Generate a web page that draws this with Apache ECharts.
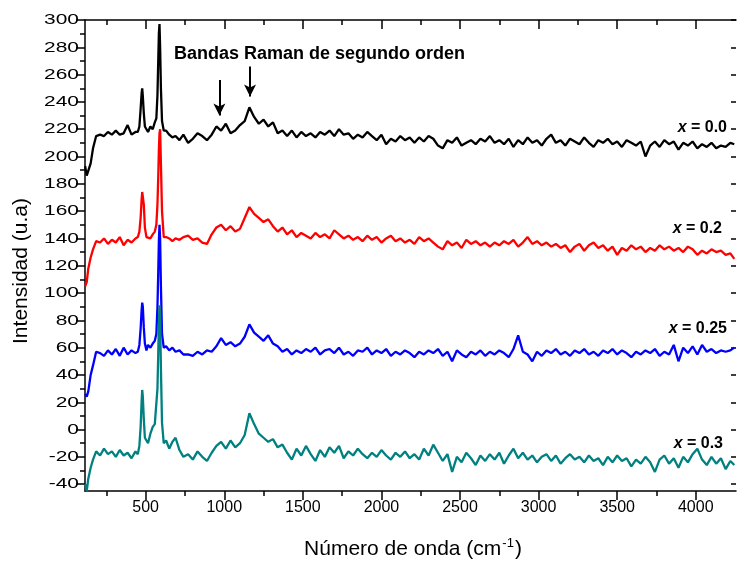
<!DOCTYPE html>
<html>
<head>
<meta charset="utf-8">
<script src="https://cdn.jsdelivr.net/npm/echarts@6/dist/echarts.min.js"></script>
<style>
  html, body { margin: 0; padding: 0; background: #fff; }
  #chart { width: 737px; height: 561px; }
</style>
</head>
<body>
<div id="chart"></div>
<script>
// Raman spectra, wavenumber in cm^-1
const wavenumber = [
  115,125,135,150,165,185,210,235,260,285,
  310,335,360,385,410,435,450,460,468,474,
  478,482,488,495,505,515,530,545,558,568,
  575,580,584,588,592,597,604,615,630,650,
  670,690,715,740,
  770,800,830,860,890,920,950,980,1010,1040,
  1070,1100,1130,1160,1190,1220,1250,1280,1310,1340,
  1370,1400,1430,1460,1490,1520,1550,1580,1610,1640,
  1670,1700,1730,1760,1790,1820,1850,1880,1910,1940,
  1970,2000,2030,2060,2090,2120,2150,2180,2210,2240,
  2270,2300,2330,2360,2390,2420,2450,2480,2510,2540,
  2570,2600,2630,2660,2690,2720,2750,2780,2810,2840,
  2870,2900,2930,2960,2990,3020,3050,3080,3110,3140,
  3170,3200,3230,3260,3290,3320,3350,3380,3410,3440,
  3470,3500,3530,3560,3590,3620,3650,3680,3710,3740,
  3770,3800,3830,3860,3890,3920,3950,3980,4010,4040,
  4070,4100,4130,4160,4190,4220,4245
];

// x = 0.0
const intensityX00 = [
  193,186,185,195,206,215,216,215,218,216,
  219,216,217,223,216,218,218,222,235,246,
  250,244,232,222,220,218,222,220,225,228,
  245,270,290,297,280,250,226,219,219,216,
  214,215,212,216,
  210,213,217,215,212,216,222,219,224,217,
  219,223,226,236,229,224,227,222,225,217,
  219,215,219,214,218,215,217,214,218,216,
  219,215,220,216,217,213,216,214,218,215,
  212,216,209,213,211,215,212,214,210,214,
  211,215,213,208,206,212,210,214,208,210,
  212,209,213,211,215,210,212,209,213,207,
  212,209,214,210,212,208,213,216,210,212,
  208,213,211,209,214,210,207,212,210,213,
  209,211,207,212,210,208,211,200,208,211,
  207,212,209,211,205,210,208,211,206,209,
  207,210,206,208,207,210,209
];

// x = 0.2
const intensityX02 = [
  105,108,118,126,132,138,137,140,136,139,
  137,141,135,139,137,140,141,145,155,168,
  174,175,165,148,141,141,140,143,145,150,
  165,185,205,217,220,195,160,141,141,140,
  138,140,139,141,
  142,139,140,137,136,143,148,150,146,149,
  145,147,155,163,158,155,152,154,149,145,
  148,143,146,141,144,142,140,144,141,143,
  140,146,143,140,142,139,141,138,142,139,
  141,137,140,142,138,140,137,139,136,141,
  138,140,137,134,132,138,135,137,133,139,
  136,138,135,137,134,137,135,138,136,139,
  134,137,141,136,138,135,137,134,136,133,
  135,130,134,136,131,135,137,133,135,131,
  134,128,133,131,135,132,134,130,133,131,
  135,132,134,131,133,130,134,132,128,131,
  129,132,130,131,128,129,125
];

// x = 0.25
const intensityX025 = [
  26,24,28,40,47,57,56,54,58,55,
  59,54,60,55,58,56,57,62,74,87,
  93,90,75,63,58,62,60,63,65,70,
  90,115,138,150,140,105,70,60,61,58,
  60,57,58,55,
  55,54,57,55,58,57,61,67,62,64,
  61,63,68,77,71,68,65,69,63,61,
  57,59,55,58,56,59,57,60,55,58,
  59,56,60,55,57,54,58,57,60,55,
  58,56,59,54,57,55,58,56,53,57,
  55,58,56,59,54,57,50,58,55,53,
  57,55,58,54,57,55,58,56,53,59,
  69,57,55,50,57,54,58,56,59,55,
  57,54,58,56,59,55,57,54,58,56,
  59,55,58,56,53,57,55,58,56,59,
  54,57,55,62,50,60,56,61,55,62,
  57,59,56,58,57,58,60
];

// x = 0.3
const intensityX03 = [
  -40,-45,-36,-28,-22,-16,-19,-14,-18,-16,
  -20,-15,-19,-17,-21,-16,-18,-12,2,20,
  29,24,8,-6,-5,-10,-3,2,4,5,
  30,55,78,91,82,45,5,-10,-8,-14,
  -9,-6,-15,-20,
  -18,-22,-16,-20,-23,-17,-12,-9,-14,-8,
  -13,-10,-4,12,4,-3,-6,-9,-7,-13,
  -11,-17,-22,-14,-19,-12,-18,-23,-15,-20,
  -13,-17,-12,-21,-16,-19,-14,-18,-21,-17,
  -20,-15,-19,-22,-17,-20,-16,-21,-18,-22,
  -14,-19,-11,-17,-23,-18,-31,-20,-24,-17,
  -21,-26,-19,-23,-18,-22,-17,-25,-19,-14,
  -21,-17,-22,-19,-24,-20,-18,-23,-19,-25,
  -21,-18,-22,-20,-24,-19,-23,-21,-26,-20,
  -24,-19,-23,-21,-27,-22,-25,-20,-24,-31,
  -22,-19,-25,-21,-28,-20,-24,-18,-14,-22,
  -26,-20,-25,-21,-29,-23,-26
];

const seriesNames = ['x = 0.0', 'x = 0.2', 'x = 0.25', 'x = 0.3'];
const seriesColors = ['#000000', '#ff0000', '#0000ff', '#008080'];

// axis ticks
const xMajorTicks = [500, 1000, 1500, 2000, 2500, 3000, 3500, 4000];
const xMinorTicks = [250, 750, 1250, 1750, 2250, 2750, 3250, 3750];
const yMajorTicks = [-40, -20, 0, 20, 40, 60, 80, 100, 120, 140, 160, 180, 200, 220, 240, 260, 280, 300];
const yMinorTicks = [-30, -10, 10, 30, 50, 70, 90, 110, 130, 150, 170, 190, 210, 230, 250, 270, 290];

// second-order band markers: [wavenumber, arrow start, arrow end]
const bandArrows = [[969, 256, 230], [1164, 266, 244]];

const X_MIN = 114, X_MAX = 4256, Y_MIN = -45, Y_MAX = 300;
const FONT = 'Liberation Sans, Arial, sans-serif';

const chart = echarts.init(document.getElementById('chart'), null, { renderer: 'canvas' });

function xAxisDef(pos, ticks, len, inside, showLine, showLabels) {
  return {
    type: 'value', position: pos, min: X_MIN, max: X_MAX,
    axisLine: { show: showLine, onZero: false, lineStyle: { color: '#000', width: 1.5 } },
    axisTick: { show: true, inside: inside, length: len, customValues: ticks, lineStyle: { color: '#000', width: 1.5 } },
    axisLabel: showLabels ? {
      show: true, customValues: ticks, margin: 9, color: '#000', fontSize: 16, fontFamily: FONT,
      formatter: v => String(v)
    } : { show: false },
    splitLine: { show: false }
  };
}
function yAxisDef(pos, ticks, len, inside, showLine) {
  return {
    type: 'value', position: pos, min: Y_MIN, max: Y_MAX,
    axisLine: { show: showLine, onZero: false, lineStyle: { color: '#000', width: 1.5 } },
    axisTick: { show: true, inside: inside, length: len, customValues: ticks, lineStyle: { color: '#000', width: 1.5 } },
    axisLabel: { show: false },
    splitLine: { show: false }
  };
}

const series = [intensityX00, intensityX02, intensityX025, intensityX03].map((vals, k) => ({
  name: seriesNames[k],
  type: 'line',
  xAxisIndex: 0, yAxisIndex: 0,
  data: wavenumber.map((w, i) => [w, vals[i]]),
  showSymbol: false,
  symbol: 'none',
  clip: true,
  lineStyle: { color: seriesColors[k], width: 2.3 },
  itemStyle: { color: seriesColors[k] },
  animation: false
}));

series[0].markLine = {
  silent: true,
  symbol: ['none', 'arrow'],
  symbolSize: [9, 12],
  label: { show: false },
  lineStyle: { color: '#000', width: 2, type: 'solid' },
  data: bandArrows.map(a => [{ coord: [a[0], a[1]] }, { coord: [a[0], a[2]] }]),
  animation: false
};

const seriesLabel = (text, x, y) => ({
  type: 'text', x: x, y: y,
  style: {
    text: '{i|x}{n| = ' + text + '}',
    align: 'right', verticalAlign: 'middle',
    rich: {
      i: { font: 'italic bold 16px ' + FONT, fill: '#000' },
      n: { font: 'bold 16px ' + FONT, fill: '#000' }
    }
  }
});

const staticGraphics = [
  {
    type: 'text', x: 21, y: 271, rotation: Math.PI / 2,
    style: { text: 'Intensidad (u.a)', font: '21px ' + FONT, fill: '#000', align: 'center', verticalAlign: 'middle' }
  },
  {
    type: 'text', x: 413, y: 549,
    style: {
      text: '{a|Número de onda (cm}{s|-1}{a|)}',
      align: 'center', verticalAlign: 'middle',
      rich: {
        a: { font: '21px ' + FONT, fill: '#000', lineHeight: 26 },
        s: { font: '13px ' + FONT, fill: '#000', padding: [0, 1, 12, 1] }
      }
    }
  },
  {
    type: 'text', x: 174, y: 54,
    style: { text: 'Bandas Raman de segundo orden', font: 'bold 18px ' + FONT, fill: '#000', align: 'left', verticalAlign: 'middle' }
  },
  seriesLabel('0.0', 727, 128),
  seriesLabel('0.2', 722, 229),
  seriesLabel('0.25', 727, 329),
  seriesLabel('0.3', 723, 444)
];

chart.setOption({
  backgroundColor: '#fff',
  animation: false,
  grid: { left: 85, top: 20, width: 651, height: 471, containLabel: false },
  xAxis: [
    xAxisDef('bottom', xMajorTicks, 9, false, true, true),
    xAxisDef('bottom', xMinorTicks, 5, false, false, false),
    xAxisDef('top', xMajorTicks, 9, true, true, false),
    xAxisDef('top', xMinorTicks, 5, true, false, false)
  ],
  yAxis: [
    yAxisDef('left', yMajorTicks, 9, false, true),
    yAxisDef('left', yMinorTicks, 5, false, false),
    yAxisDef('right', yMajorTicks, 5, true, false)
  ],
  series: series,
  graphic: staticGraphics
});

// Intensity tick labels: wide-set numerals, placed at the axis scale positions
const yLabelGraphics = yMajorTicks.map(v => ({
  type: 'text',
  x: 79,
  y: chart.convertToPixel({ yAxisIndex: 0 }, v),
  scaleX: 1.35,
  style: { text: String(v), font: '15.5px ' + FONT, fill: '#000', align: 'right', verticalAlign: 'middle' }
}));
chart.setOption({ graphic: staticGraphics.concat(yLabelGraphics) });
</script>
</body>
</html>
